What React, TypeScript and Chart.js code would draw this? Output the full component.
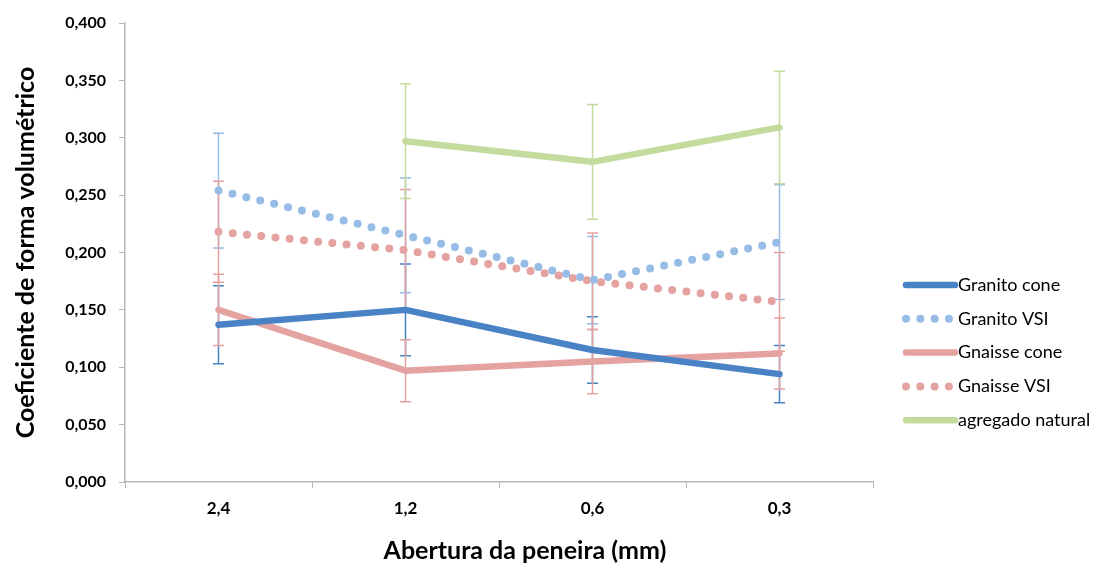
import React, { useEffect, useRef } from "react";
import { Chart, registerables } from "chart.js";
Chart.register(...registerables);

const categories = ["2,4", "1,2", "0,6", "0,3"];
const seriesNames = ["Granito cone", "Granito VSI", "Gnaisse cone", "Gnaisse VSI", "agregado natural"];
const granitoCone = [0.137, 0.150, 0.115, 0.094];
const granitoConeErr = [0.034, 0.040, 0.029, 0.025];
const granitoVSI = [0.254, 0.215, 0.176, 0.209];
const granitoVSIErr = [0.050, 0.050, 0.038, 0.050];
const gnaisseCone = [0.150, 0.097, 0.105, 0.112];
const gnaisseConeErr = [0.031, 0.027, 0.028, 0.031];
const gnaisseVSI = [0.218, 0.202, 0.175, 0.157];
const gnaisseVSIErr = [0.044, 0.053, 0.042, 0.043];
const agregadoNatural = [null, 0.297, 0.279, 0.309];
const agregadoNaturalErr = [null, 0.050, 0.050, 0.049];
const yMin = 0;
const yMax = 0.4;
const yStep = 0.05;
const xTitle = "Abertura da peneira (mm)";
const yTitle = "Coeficiente de forma volumétrico";

const FONT = "Lato";
const colors = ["#4a83c5", "#97bce6", "#e4a3a1", "#e4a3a1", "#c4db9e"];
const dotted = [false, true, false, true, false];
const values = [granitoCone, granitoVSI, gnaisseCone, gnaisseVSI, agregadoNatural];
const errors = [granitoConeErr, granitoVSIErr, gnaisseConeErr, gnaisseVSIErr, agregadoNaturalErr];

const errorBarPlugin = {
  id: "errorBars",
  beforeDatasetsDraw(chart: any) {
    const ctx = chart.ctx;
    const xs = chart.scales.x;
    const ys = chart.scales.y;
    ctx.save();
    chart.data.datasets.forEach((ds: any, di: number) => {
      const errs = errors[di];
      ctx.strokeStyle = ds.borderColor;
      ctx.lineWidth = 1.5;
      ds.data.forEach((v: any, i: number) => {
        if (v == null || errs[i] == null) return;
        const x = xs.getPixelForValue(i);
        const yt = ys.getPixelForValue(v + errs[i]);
        const yb = ys.getPixelForValue(v - errs[i]);
        ctx.beginPath();
        ctx.moveTo(x, yt);
        ctx.lineTo(x, yb);
        ctx.moveTo(x - 5.5, yt);
        ctx.lineTo(x + 5.5, yt);
        ctx.moveTo(x - 5.5, yb);
        ctx.lineTo(x + 5.5, yb);
        ctx.stroke();
      });
    });
    ctx.restore();
  },
};

const legendPlugin = {
  id: "customLegend",
  afterDraw(chart: any) {
    const ctx = chart.ctx;
    const left = chart.chartArea.right + 30;
    ctx.save();
    chart.data.datasets.forEach((ds: any, i: number) => {
      const y = 285 + i * 33.8;
      ctx.strokeStyle = ds.borderColor;
      ctx.lineWidth = ds.borderWidth;
      ctx.lineCap = "round";
      ctx.setLineDash(ds.borderDash || []);
      ctx.beginPath();
      ctx.moveTo(left + 3, y);
      ctx.lineTo(left + 52, y);
      ctx.stroke();
      ctx.setLineDash([]);
      ctx.fillStyle = "#000";
      ctx.font = `18px ${FONT}`;
      ctx.textBaseline = "middle";
      ctx.textAlign = "left";
      ctx.fillText(ds.label, left + 55, y);
    });
    // x axis title
    ctx.font = `bold 25px ${FONT}`;
    ctx.textAlign = "center";
    ctx.textBaseline = "middle";
    ctx.fillText(xTitle, 525, 551);
    ctx.restore();
  },
};

export default function App() {
  const ref = useRef<HTMLCanvasElement>(null);
  useEffect(() => {
    const chart = new Chart(ref.current!, {
      type: "line",
      data: {
        labels: categories,
        datasets: seriesNames.map((name, i) => ({
          label: name,
          data: values[i],
          borderColor: colors[i],
          backgroundColor: colors[i],
          borderWidth: dotted[i] ? 8 : 6.5,
          borderDash: dotted[i] ? [0, 14.3] : [],
          borderCapStyle: "round",
          borderJoinStyle: "round",
          pointRadius: 0,
          fill: false,
          tension: 0,
        })),
      },
      options: {
        animation: false,
        responsive: false,
        layout: { padding: { top: 23, right: 222, left: 0, bottom: 0 } },
        plugins: { legend: { display: false }, tooltip: { enabled: false } },
        scales: {
          x: {
            offset: true,
            grid: { display: true, drawOnChartArea: false, offset: true, tickLength: 6, color: "#b8b8b8" },
            border: { color: "#b8b8b8", width: 1.5 },
            ticks: { color: "#000", font: { family: FONT, size: 17, weight: "bold" }, padding: 10 },
            afterFit: (s: any) => { s.height = 85; },
          },
          y: {
            min: yMin,
            max: yMax,
            grid: { display: true, drawOnChartArea: false, tickLength: 6, color: "#b8b8b8" },
            border: { color: "#b8b8b8", width: 1.5 },
            ticks: {
              stepSize: yStep,
              color: "#000",
              padding: 13,
              font: { family: FONT, size: 16, weight: "bold" },
              callback: (v: any) => Number(v).toFixed(3).replace(".", ","),
            },
            title: {
              display: true,
              text: yTitle,
              color: "#000",
              font: { family: FONT, size: 25, weight: "bold" },
              padding: { top: 11, bottom: 0 },
            },
            afterFit: (s: any) => { s.width = 125; },
          },
        },
      },
      plugins: [errorBarPlugin, legendPlugin],
    } as any);
    return () => chart.destroy();
  }, []);
  return (
    <div style={{ position: "absolute", left: 0, top: 0, width: 1095, height: 567, background: "#fff" }}>
      <canvas ref={ref} width={1095} height={567} style={{ display: "block" }} />
    </div>
  );
}
